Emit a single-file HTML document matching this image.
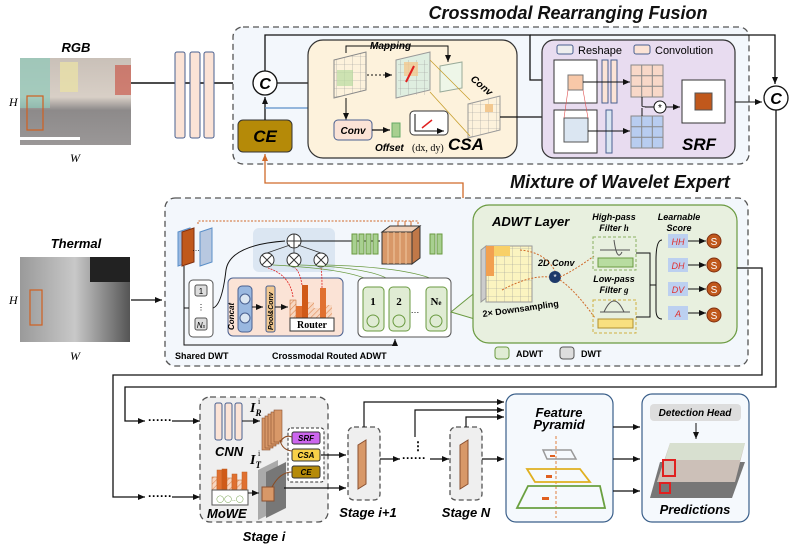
<!DOCTYPE html>
<html><head><meta charset="utf-8"><style>
html,body{margin:0;padding:0;background:#fff;}
svg{display:block;font-family:"Liberation Sans",sans-serif;}
.bi{font-weight:bold;font-style:italic;}
</style></head><body>
<svg width="793" height="548" viewBox="0 0 793 548" xmlns="http://www.w3.org/2000/svg">
<defs>
<marker id="a" markerWidth="8" markerHeight="8" refX="7" refY="4" orient="auto" markerUnits="userSpaceOnUse"><path d="M0,1 L7,4 L0,7 z" fill="#111"/></marker>
<marker id="ao" markerWidth="8" markerHeight="8" refX="7" refY="4" orient="auto" markerUnits="userSpaceOnUse"><path d="M0,1 L7,4 L0,7 z" fill="#d06a2a"/></marker>
<linearGradient id="rgb" x1="0" y1="0" x2="0" y2="1"><stop offset="0" stop-color="#c9c0b8"/><stop offset="0.45" stop-color="#d8cfc6"/><stop offset="0.6" stop-color="#8d8a8a"/><stop offset="1" stop-color="#9a9797"/></linearGradient>
<linearGradient id="th" x1="0" y1="0" x2="1" y2="0"><stop offset="0" stop-color="#9a9a9a"/><stop offset="0.5" stop-color="#c8c8c8"/><stop offset="1" stop-color="#555"/></linearGradient>
<pattern id="grid" width="8" height="8" patternUnits="userSpaceOnUse"><path d="M8 0H0V8" fill="none" stroke="#999" stroke-width="0.6"/></pattern>
<pattern id="hatch" width="4" height="4" patternUnits="userSpaceOnUse" patternTransform="rotate(45)"><rect width="4" height="4" fill="#f7d7c2"/><line x1="0" y1="0" x2="0" y2="4" stroke="#e08a55" stroke-width="1.2"/></pattern>
</defs>

<!-- Titles -->
<text x="568" y="19" font-size="18" class="bi" text-anchor="middle" fill="#111">Crossmodal Rearranging Fusion</text>
<text x="620" y="188" font-size="18" class="bi" text-anchor="middle" fill="#111">Mixture of Wavelet Expert</text>

<!-- RGB -->
<text x="76" y="52" font-size="13" class="bi" text-anchor="middle">RGB</text>
<rect x="20" y="58" width="111" height="87" fill="url(#rgb)"/>
<rect x="20" y="58" width="30" height="50" fill="#8fc9b9" opacity="0.7"/>
<rect x="60" y="62" width="18" height="30" fill="#e8e0a8" opacity="0.8"/>
<rect x="115" y="65" width="16" height="30" fill="#c84a3a" opacity="0.6"/>
<rect x="20" y="137" width="60" height="3" fill="#fff"/>
<rect x="27" y="96" width="16" height="34" fill="none" stroke="#d06020" stroke-width="1.2"/>
<text x="9" y="106" font-size="12" font-style="italic" font-family="Liberation Serif">H</text>
<text x="70" y="162" font-size="12" font-style="italic" font-family="Liberation Serif">W</text>

<!-- Thermal -->
<text x="76" y="248" font-size="13" class="bi" text-anchor="middle">Thermal</text>
<rect x="20" y="257" width="110" height="85" fill="url(#th)"/>
<rect x="90" y="257" width="40" height="25" fill="#222"/>
<rect x="30" y="290" width="12" height="35" fill="none" stroke="#d06020" stroke-width="1.2"/>
<text x="9" y="304" font-size="12" font-style="italic" font-family="Liberation Serif">H</text>
<text x="70" y="360" font-size="12" font-style="italic" font-family="Liberation Serif">W</text>
<line x1="131" y1="300" x2="162" y2="300" stroke="#111" stroke-width="1.3" marker-end="url(#a)"/>

<!-- backbone bars -->
<line x1="131" y1="83" x2="251" y2="83" stroke="#111" stroke-width="1.4" marker-end="url(#a)"/>
<rect x="175" y="52" width="10" height="86" rx="2" fill="#fbe3d6" stroke="#4a6090"/>
<rect x="190" y="52" width="10" height="86" rx="2" fill="#fbe3d6" stroke="#4a6090"/>
<rect x="204" y="52" width="10" height="86" rx="2" fill="#fbe3d6" stroke="#4a6090"/>

<!-- CRF dashed box -->
<rect x="233" y="27" width="516" height="137" rx="10" fill="#f3f7fc" stroke="#555" stroke-width="1.3" stroke-dasharray="6,4"/>
<circle cx="265" cy="83" r="12" fill="#fff" stroke="#111" stroke-width="1.3"/>
<text x="265" y="89" font-size="16" class="bi" text-anchor="middle">C</text>
<rect x="238" y="120" width="54" height="32" rx="5" fill="#b58a08" stroke="#333"/>
<text x="265" y="142" font-size="17" class="bi" text-anchor="middle">CE</text>
<line x1="265" y1="120" x2="265" y2="97" stroke="#111" stroke-width="1.3" marker-end="url(#a)"/>
<!-- top loop -->
<polyline points="265,71 265,35 530,35 530,80 553,80" fill="none" stroke="#111" stroke-width="1.3" marker-end="url(#a)"/>
<polyline points="530,35 775,35 775,84" fill="none" stroke="#111" stroke-width="1.3" marker-end="url(#a)"/>
<line x1="277" y1="83" x2="336" y2="83" stroke="#111" stroke-width="1.3" marker-end="url(#a)"/>
<polyline points="265,108 400,108 400,98" fill="none" stroke="#5b8fc8" stroke-width="1.3"/>

<!-- CSA -->
<rect x="308" y="40" width="209" height="118" rx="15" fill="#fdf2dc" stroke="#333" stroke-width="1.2"/>
<text x="370" y="49" font-size="10" class="bi">Mapping</text>
<polygon points="334,60 366,52 366,90 334,98" fill="url(#grid)" stroke="#888"/>
<rect x="337" y="70" width="16" height="16" fill="#b8dca0" opacity="0.7"/>
<line x1="367" y1="75" x2="392" y2="75" stroke="#111" stroke-dasharray="2,2" marker-end="url(#a)"/>
<polygon points="396,60 430,52 430,90 396,98" fill="#dfeee0" stroke="#999"/>
<rect x="398" y="60" width="30" height="35" fill="url(#grid)"/>
<rect x="404" y="62" width="14" height="14" fill="#f2c890" opacity="0.8"/>
<line x1="406" y1="82" x2="414" y2="66" stroke="#e02020" stroke-width="2"/>
<polyline points="346,53 346,46 448,46 448,62" fill="none" stroke="#111" marker-end="url(#a)"/>
<polygon points="440,66 462,62 462,88 440,92" fill="#eef6e8" stroke="#9a9"/>
<text x="470" y="80" font-size="10" class="bi" transform="rotate(40 470 80)">Conv</text>
<polygon points="468,104 500,96 500,130 468,138" fill="url(#grid)" stroke="#999"/>
<rect x="485" y="104" width="8" height="8" fill="#f2c890"/>
<line x1="430" y1="60" x2="470" y2="100" stroke="#c8a030" stroke-width="0.8"/>
<line x1="430" y1="92" x2="470" y2="136" stroke="#c8a030" stroke-width="0.8"/>
<line x1="346" y1="98" x2="346" y2="120" stroke="#111" marker-end="url(#a)"/>
<rect x="334" y="120" width="38" height="20" rx="4" fill="#fbe3d6" stroke="#4a6090"/>
<text x="353" y="134" font-size="10" class="bi" text-anchor="middle">Conv</text>
<line x1="372" y1="130" x2="390" y2="130" stroke="#111" stroke-width="1.3" marker-end="url(#a)"/>
<rect x="392" y="123" width="8" height="14" fill="#a8d090" stroke="#6a6"/>
<text x="375" y="151" font-size="10" class="bi">Offset</text>
<text x="412" y="151" font-size="10" font-family="Liberation Serif">(dx, dy)</text>
<rect x="410" y="111" width="38" height="24" rx="4" fill="#fff" stroke="#333"/>
<polyline points="415,114 415,131 444,131" fill="none" stroke="#111" marker-end="url(#a)"/>
<line x1="422" y1="128" x2="432" y2="120" stroke="#e02020" stroke-width="1.5"/>
<text x="448" y="150" font-size="17" class="bi">CSA</text>
<line x1="500" y1="117" x2="553" y2="117" stroke="#111" stroke-width="1.2" marker-end="url(#a)"/>

<!-- SRF -->
<rect x="542" y="40" width="193" height="118" rx="12" fill="#e8dcf0" stroke="#333" stroke-width="1.2"/>
<rect x="557" y="45" width="16" height="9" rx="2" fill="#eee" stroke="#4a6090"/>
<text x="578" y="54" font-size="11">Reshape</text>
<rect x="634" y="45" width="16" height="9" rx="2" fill="#fbe3d6" stroke="#4a6090"/>
<text x="655" y="54" font-size="11">Convolution</text>
<rect x="554" y="60" width="43" height="43" fill="#fff" stroke="#333"/>
<rect x="568" y="75" width="15" height="15" fill="#f8c8a8" stroke="#777"/>
<rect x="554" y="110" width="43" height="43" fill="#fff" stroke="#333"/>
<rect x="564" y="118" width="24" height="24" fill="#dbe6f2" stroke="#555"/>
<line x1="568" y1="90" x2="564" y2="118" stroke="#e05050" stroke-width="0.6"/>
<line x1="583" y1="90" x2="588" y2="118" stroke="#e05050" stroke-width="0.6"/>
<rect x="602" y="60" width="6" height="43" fill="#fbe3d6" stroke="#4a6090"/>
<rect x="611" y="60" width="6" height="43" fill="#fbe3d6" stroke="#4a6090"/>
<rect x="606" y="110" width="6" height="43" fill="#dbe6f2" stroke="#4a6090"/>
<line x1="583" y1="82" x2="630" y2="82" stroke="#111" marker-end="url(#a)"/>
<line x1="588" y1="131" x2="630" y2="131" stroke="#111" marker-end="url(#a)"/>
<rect x="631" y="65" width="32" height="32" fill="#f8d8c8" stroke="#888"/>
<path d="M641.7 65V97M652.3 65V97M631 75.7H663M631 86.3H663" stroke="#888"/>
<rect x="631" y="116" width="32" height="32" fill="#b8cdf0" stroke="#888"/>
<path d="M641.7 116V148M652.3 116V148M631 126.7H663M631 137.3H663" stroke="#888"/>
<path d="M642,97 L642,106 Q642,107 650,107 M642,116 L642,108" fill="none" stroke="#111"/>
<line x1="645" y1="107" x2="654" y2="107" stroke="#111"/>
<circle cx="660" cy="107" r="6" fill="#fff" stroke="#111"/>
<text x="660" y="111" font-size="10" text-anchor="middle">*</text>
<line x1="666" y1="107" x2="680" y2="107" stroke="#111" marker-end="url(#a)"/>
<rect x="682" y="80" width="43" height="43" fill="#fff" stroke="#333"/>
<rect x="695" y="93" width="17" height="17" fill="#c0581c" stroke="#555"/>
<text x="682" y="150" font-size="17" class="bi">SRF</text>
<line x1="735" y1="102" x2="762" y2="102" stroke="#111" marker-end="url(#a)"/>
<circle cx="776" cy="98" r="12" fill="#fff" stroke="#111" stroke-width="1.3"/>
<text x="776" y="104" font-size="16" class="bi" text-anchor="middle">C</text>

<!-- orange feedback -->
<polyline points="440,241 463,241 463,183 265,183 265,154" fill="none" stroke="#d06a2a" stroke-width="1.3" marker-end="url(#ao)"/>

<!-- MoWE dashed box -->
<rect x="165" y="198" width="583" height="168" rx="10" fill="#f3f7fc" stroke="#555" stroke-width="1.3" stroke-dasharray="6,4"/>
<rect x="253" y="228" width="82" height="44" rx="6" fill="#dbe6f2"/>
<!-- feature stacks -->
<polygon points="178,232 190,228 190,262 178,266" fill="#9ab8e0" stroke="#5b8fc8"/>
<polygon points="182,232 194,228 194,262 182,266" fill="#c0581c" stroke="#803010"/>
<polygon points="200,232 212,228 212,262 200,266" fill="#b8c8e0" stroke="#5b8fc8"/>
<text x="192" y="251" font-size="8">…</text>
<polyline points="198,224 198,221 418,221 418,228" fill="none" stroke="#d06a2a" stroke-dasharray="2,1.5"/>
<path d="M398,221V228M405,221V228M411,221V228" stroke="#d06a2a"/>
<!-- shared DWT -->
<rect x="189" y="280" width="24" height="57" rx="4" fill="#fff" stroke="#555"/>
<rect x="195" y="285" width="12" height="11" rx="2" fill="#ddd" stroke="#555"/>
<text x="201" y="294" font-size="8" text-anchor="middle">1</text>
<text x="201" y="310" font-size="8" text-anchor="middle">⋮</text>
<rect x="195" y="318" width="12" height="12" rx="2" fill="#ddd" stroke="#555"/>
<text x="201" y="328" font-size="8" font-style="italic" text-anchor="middle">N<tspan font-size="5">s</tspan></text>
<polyline points="184,266 184,345 395,345 395,339" fill="none" stroke="#111" marker-end="url(#a)"/>
<line x1="184" y1="308" x2="189" y2="308" stroke="#111"/>
<path d="M213,308 Q222,305 226,270 Q230,245 285,241" fill="none" stroke="#111"/>
<!-- router -->
<rect x="228" y="278" width="115" height="58" rx="5" fill="#fbe3d6" stroke="#4a6090"/>
<rect x="238" y="286" width="14" height="46" rx="4" fill="#9ab8e0" stroke="#4a6090"/>
<circle cx="245" cy="299" r="5" fill="#dbe6f2" stroke="#4a6090"/>
<circle cx="245" cy="318" r="5" fill="#dbe6f2" stroke="#4a6090"/>
<text x="234" y="330" font-size="8" class="bi" transform="rotate(-90 234 330)">Concat</text>
<rect x="266" y="286" width="9" height="46" rx="2" fill="#f2c890" stroke="#4a6090"/>
<text x="273" y="330" font-size="7" class="bi" transform="rotate(-90 273 330)">Pool&amp;Conv</text>
<line x1="252" y1="307" x2="263" y2="307" stroke="#111" marker-end="url(#a)"/>
<line x1="275" y1="307" x2="288" y2="307" stroke="#111" marker-end="url(#a)"/>
<rect x="290" y="300" width="6" height="18" fill="url(#hatch)" stroke="#c06020" stroke-width="0.5"/>
<rect x="296" y="306" width="6" height="12" fill="#e07030"/>
<rect x="302" y="285" width="6" height="33" fill="#d05a18"/>
<rect x="308" y="302" width="6" height="16" fill="url(#hatch)"/>
<rect x="314" y="308" width="6" height="10" fill="url(#hatch)"/>
<rect x="320" y="288" width="6" height="30" fill="#e07030"/>
<rect x="326" y="305" width="6" height="13" fill="url(#hatch)"/>
<rect x="290" y="318" width="44" height="13" fill="#fff" stroke="#333"/>
<text x="312" y="328" font-size="10" font-weight="bold" font-family="Liberation Serif" text-anchor="middle">Router</text>
<!-- circles -->
<circle cx="294" cy="241" r="7" fill="#fff" stroke="#333"/><path d="M287,241H301M294,234V248" stroke="#333"/>
<g stroke="#333" fill="#fff"><circle cx="267" cy="260" r="7"/><circle cx="294" cy="260" r="7"/><circle cx="321" cy="260" r="7"/></g>
<path d="M262,255L272,265M272,255L262,265M289,255L299,265M299,255L289,265M316,255L326,265M326,255L316,265" stroke="#333"/>
<path d="M267,253L290,245M294,253V248M321,253L298,245" stroke="#333" stroke-width="0.8"/>
<path d="M293,297Q290,275 268,268M302,285Q300,272 295,268M322,288Q322,272 321,268" fill="none" stroke="#e02020" stroke-width="0.8" stroke-dasharray="2,1"/>
<path d="M378,288Q370,270 273,265M397,288Q390,268 300,265M446,288Q430,268 326,265" fill="none" stroke="#6a9a40" stroke-width="0.8"/>
<line x1="301" y1="241" x2="380" y2="241" stroke="#111" marker-end="url(#a)"/>
<!-- green/orange stacks -->
<g fill="#a8d090" stroke="#6a9a40"><rect x="352" y="234" width="5" height="20"/><rect x="359" y="234" width="5" height="20"/><rect x="366" y="234" width="5" height="20"/><rect x="373" y="234" width="5" height="20"/><rect x="430" y="234" width="5" height="20"/><rect x="437" y="234" width="5" height="20"/></g>
<polygon points="382,232 412,232 420,226 390,226" fill="#f0d0b8" stroke="#333"/>
<rect x="382" y="232" width="30" height="32" fill="#d89868" stroke="#333"/>
<polygon points="412,232 420,226 420,258 412,264" fill="#c07848" stroke="#333"/>
<path d="M388,232V264M394,232V264M400,232V264M406,232V264" stroke="#f0c8a0"/>
<!-- experts -->
<rect x="358" y="278" width="93" height="59" rx="5" fill="#fff" stroke="#555"/>
<g fill="#e0ecd4" stroke="#6a9a40"><rect x="363" y="287" width="21" height="44" rx="4"/><rect x="389" y="287" width="21" height="44" rx="4"/><rect x="426" y="287" width="21" height="44" rx="4"/></g>
<text x="373" y="305" font-size="11" font-weight="bold" font-family="Liberation Serif" text-anchor="middle">1</text>
<text x="399" y="305" font-size="11" font-weight="bold" font-family="Liberation Serif" text-anchor="middle">2</text>
<text x="436" y="305" font-size="11" font-weight="bold" font-family="Liberation Serif" text-anchor="middle">N<tspan font-size="7">e</tspan></text>
<text x="415" y="313" font-size="9" text-anchor="middle">…</text>
<g fill="none" stroke="#6a9a40"><circle cx="373" cy="321" r="6"/><circle cx="399" cy="321" r="6"/><circle cx="436" cy="321" r="6"/></g>
<text x="175" y="359" font-size="9" font-weight="bold">Shared DWT</text>
<text x="272" y="359" font-size="9" font-weight="bold">Crossmodal Routed ADWT</text>
<!-- ADWT Layer -->
<polygon points="451,312 478,290 478,320" fill="#e8f0df" stroke="#6a9a40"/>
<rect x="473" y="205" width="264" height="138" rx="16" fill="#e8f0df" stroke="#6a9a40" stroke-width="1.2"/>
<text x="492" y="226" font-size="13" class="bi">ADWT Layer</text>
<polygon points="481,250 486,246 486,298 481,302" fill="#ccc" stroke="#999"/>
<rect x="486" y="246" width="46" height="56" fill="#fbf4c0" stroke="#999"/>
<rect x="486" y="246" width="46" height="56" fill="url(#grid)"/>
<rect x="486" y="246" width="8" height="30" fill="#f2a050"/><rect x="494" y="246" width="16" height="10" fill="#f8d068"/>
<text x="538" y="266" font-size="9" class="bi">2D Conv</text>
<circle cx="555" cy="277" r="6" fill="#1e3a6a"/><text x="555" y="280" font-size="8" fill="#fff" text-anchor="middle">*</text>
<path d="M520,250Q545,252 555,271M560,277Q575,270 594,256M560,280Q575,290 595,318M502,290Q530,275 549,277" fill="none" stroke="#d06a2a" stroke-dasharray="2,1.5"/>
<text x="483" y="317" font-size="9" font-weight="bold" transform="rotate(-8 483 317)">2× Downsampling</text>
<text x="614" y="220" font-size="9" class="bi" text-anchor="middle">High-pass</text>
<text x="614" y="231" font-size="9" class="bi" text-anchor="middle">Filter <tspan font-family="Liberation Serif">h</tspan></text>
<rect x="593" y="237" width="43" height="33" fill="none" stroke="#8ab060" stroke-dasharray="3,2"/>
<rect x="598" y="258" width="35" height="9" fill="#b8dca0" stroke="#6a9a40"/>
<path d="M600,250H630M614,240Q617,262 622,252" fill="none" stroke="#555"/>
<text x="614" y="282" font-size="9" class="bi" text-anchor="middle">Low-pass</text>
<text x="614" y="293" font-size="9" class="bi" text-anchor="middle">Filter <tspan font-family="Liberation Serif">g</tspan></text>
<rect x="593" y="300" width="43" height="33" fill="none" stroke="#d0b040" stroke-dasharray="3,2"/>
<rect x="598" y="319" width="35" height="9" fill="#f8e080" stroke="#b09030"/>
<path d="M600,312H630M604,312Q614,290 624,312" fill="none" stroke="#555"/>
<path d="M636,253H650V317H636" fill="none" stroke="#111"/>
<path d="M650,285H656M662,240Q656,240 656,260V310Q656,319 662,319" fill="none" stroke="#111"/>
<text x="679" y="220" font-size="9" class="bi" text-anchor="middle">Learnable</text>
<text x="679" y="231" font-size="9" class="bi" text-anchor="middle">Score</text>
<g font-size="9" font-style="italic" fill="#e03030" text-anchor="middle">
<rect x="668" y="234" width="20" height="14" fill="#bcd0f0"/><text x="678" y="245">HH</text>
<rect x="668" y="258" width="20" height="14" fill="#bcd0f0"/><text x="678" y="269">DH</text>
<rect x="668" y="282" width="20" height="14" fill="#bcd0f0"/><text x="678" y="293">DV</text>
<rect x="668" y="306" width="20" height="14" fill="#bcd0f0"/><text x="678" y="317">A</text></g>
<g stroke="#111"><line x1="688" y1="241" x2="706" y2="241" marker-end="url(#a)"/><line x1="688" y1="265" x2="706" y2="265" marker-end="url(#a)"/><line x1="688" y1="289" x2="706" y2="289" marker-end="url(#a)"/><line x1="688" y1="313" x2="706" y2="313" marker-end="url(#a)"/></g>
<g fill="#c0581c" stroke="#803010"><circle cx="714" cy="241" r="7"/><circle cx="714" cy="265" r="7"/><circle cx="714" cy="289" r="7"/><circle cx="714" cy="315" r="7"/></g>
<g fill="#fff" font-size="10" text-anchor="middle"><text x="714" y="245">S</text><text x="714" y="269">S</text><text x="714" y="293">S</text><text x="714" y="319">S</text></g>
<rect x="495" y="347" width="14" height="12" rx="3" fill="#e0ecd4" stroke="#6a9a40"/>
<text x="516" y="357" font-size="9" font-weight="bold">ADWT</text>
<rect x="560" y="347" width="14" height="12" rx="3" fill="#ddd" stroke="#555"/>
<text x="581" y="357" font-size="9" font-weight="bold">DWT</text>

<!-- long loops -->
<polyline points="737,268 762,268 762,375 113,375 113,497 145,497" fill="none" stroke="#111" stroke-width="1.3" marker-end="url(#a)"/>
<polyline points="776,110 776,387 125,387 125,421 145,421" fill="none" stroke="#111" stroke-width="1.3" marker-end="url(#a)"/>
<text x="148" y="424" font-size="12" font-weight="bold">······</text>
<text x="148" y="500" font-size="12" font-weight="bold">······</text>
<line x1="172" y1="421" x2="200" y2="421" stroke="#111" stroke-width="1.3" marker-end="url(#a)"/>
<line x1="172" y1="497" x2="200" y2="497" stroke="#111" stroke-width="1.3" marker-end="url(#a)"/>

<!-- Stage i -->
<rect x="200" y="397" width="128" height="125" rx="10" fill="#efefef" stroke="#555" stroke-width="1.3" stroke-dasharray="6,4"/>
<rect x="215" y="403" width="7" height="37" rx="2" fill="#fbe3d6" stroke="#4a6090"/>
<rect x="225" y="403" width="7" height="37" rx="2" fill="#fbe3d6" stroke="#4a6090"/>
<rect x="235" y="403" width="7" height="37" rx="2" fill="#fbe3d6" stroke="#4a6090"/>
<line x1="242" y1="421" x2="260" y2="421" stroke="#111" marker-end="url(#a)"/>
<text x="215" y="456" font-size="13" class="bi">CNN</text>
<text x="250" y="412" font-size="14" font-weight="bold" font-style="italic" font-family="Liberation Serif">I<tspan font-size="9" dy="4">R</tspan></text>
<text x="258" y="404" font-size="8" font-family="Liberation Serif">i</text>
<g fill="#d89868" stroke="#8a5030" stroke-width="0.6"><rect x="262" y="418" width="8" height="32"/><rect x="265" y="416" width="8" height="32"/><rect x="268" y="414" width="8" height="32"/><rect x="271" y="412" width="8" height="32"/><rect x="274" y="410" width="8" height="32"/></g>
<rect x="288" y="428" width="36" height="54" rx="3" fill="#fff" stroke="#333" stroke-dasharray="3,2"/>
<rect x="292" y="432" width="28" height="12" rx="2" fill="#cc66ee" stroke="#333"/><text x="306" y="441" font-size="8" class="bi" text-anchor="middle">SRF</text>
<rect x="292" y="449" width="28" height="12" rx="2" fill="#f8d048" stroke="#333"/><text x="306" y="458" font-size="8" class="bi" text-anchor="middle">CSA</text>
<rect x="292" y="466" width="28" height="12" rx="2" fill="#b58a08" stroke="#333"/><text x="306" y="475" font-size="8" class="bi" text-anchor="middle">CE</text>
<path d="M280,440Q282,450 292,451M280,442Q285,434 292,437" fill="none" stroke="#8a4a20"/>
<text x="250" y="464" font-size="14" font-weight="bold" font-style="italic" font-family="Liberation Serif">I<tspan font-size="9" dy="4">T</tspan></text>
<text x="258" y="456" font-size="8" font-family="Liberation Serif">i</text>
<polygon points="258,470 278,460 278,510 258,520" fill="#aaa"/>
<polygon points="266,472 286,462 286,508 266,518" fill="#777"/>
<rect x="262" y="487" width="12" height="14" fill="#d89868" stroke="#8a5030"/>
<path d="M272,487Q280,472 292,472" fill="none" stroke="#8a4a20"/>
<g stroke-width="0.5" stroke="#c06020"><rect x="212" y="477" width="5" height="13" fill="url(#hatch)"/><rect x="217" y="470" width="5" height="20" fill="#e07030"/><rect x="222" y="469" width="5" height="21" fill="#d05a18"/><rect x="227" y="478" width="5" height="12" fill="url(#hatch)"/><rect x="232" y="474" width="5" height="16" fill="#e07030"/><rect x="237" y="480" width="5" height="10" fill="url(#hatch)"/><rect x="242" y="472" width="5" height="18" fill="#e07030"/></g>
<rect x="212" y="490" width="36" height="15" fill="#fff" stroke="#555"/>
<text x="230" y="501" font-size="7" fill="#6a9a40" text-anchor="middle">◯◯..◯</text>
<line x1="248" y1="493" x2="259" y2="493" stroke="#111" marker-end="url(#a)"/>
<text x="207" y="518" font-size="13" class="bi">MoWE</text>
<text x="264" y="541" font-size="13" class="bi" text-anchor="middle">Stage i</text>
<line x1="321" y1="455" x2="346" y2="455" stroke="#111" stroke-width="1.3" marker-end="url(#a)"/>
<line x1="284" y1="488" x2="346" y2="488" stroke="#111" stroke-width="1.3" marker-end="url(#a)"/>

<!-- Stage i+1 / N -->
<rect x="348" y="427" width="32" height="73" rx="6" fill="#efefef" stroke="#555" stroke-width="1.3" stroke-dasharray="5,3"/>
<polygon points="358,445 366,440 366,484 358,489" fill="#d89868" stroke="#8a5030"/>
<text x="368" y="517" font-size="13" class="bi" text-anchor="middle">Stage i+1</text>
<rect x="450" y="427" width="32" height="73" rx="6" fill="#efefef" stroke="#555" stroke-width="1.3" stroke-dasharray="5,3"/>
<polygon points="460,445 468,440 468,484 460,489" fill="#d89868" stroke="#8a5030"/>
<text x="466" y="517" font-size="13" class="bi" text-anchor="middle">Stage N</text>
<line x1="380" y1="459" x2="400" y2="459" stroke="#111" stroke-width="1.3" marker-end="url(#a)"/>
<text x="402" y="462" font-size="12" font-weight="bold">······</text>
<line x1="430" y1="459" x2="449" y2="459" stroke="#111" stroke-width="1.3" marker-end="url(#a)"/>
<text x="412" y="450" font-size="12" font-weight="bold">⋮</text>
<polyline points="364,427 364,402 504,402" fill="none" stroke="#111" stroke-width="1.2" marker-end="url(#a)"/>
<polyline points="415,437 415,410 504,410" fill="none" stroke="#111" stroke-width="1.2" marker-end="url(#a)"/>
<polyline points="466,427 466,417 504,417" fill="none" stroke="#111" stroke-width="1.2" marker-end="url(#a)"/>
<line x1="482" y1="459" x2="504" y2="459" stroke="#111" stroke-width="1.3" marker-end="url(#a)"/>

<!-- Feature pyramid -->
<rect x="506" y="394" width="107" height="128" rx="10" fill="#f5f9fd" stroke="#3a5f8a" stroke-width="1.2"/>
<text x="559" y="417" font-size="13" class="bi" text-anchor="middle">Feature</text>
<text x="559" y="429" font-size="13" class="bi" text-anchor="middle">Pyramid</text>
<line x1="556" y1="436" x2="556" y2="518" stroke="#e08040" stroke-dasharray="3,2"/>
<polygon points="543,450 571,450 576,459 547,459" fill="none" stroke="#999" stroke-width="1.5"/>
<polygon points="527,469 580,469 590,482 535,482" fill="none" stroke="#e0b020" stroke-width="1.8"/>
<polygon points="528,486 600,486 605,508 517,508" fill="none" stroke="#6aa040" stroke-width="1.8"/>
<rect x="550" y="455" width="5" height="2" fill="#e06020"/><rect x="546" y="475" width="6" height="3" fill="#e06020"/><rect x="542" y="497" width="7" height="3" fill="#e06020"/>
<line x1="613" y1="427" x2="640" y2="427" stroke="#111" stroke-width="1.3" marker-end="url(#a)"/>
<line x1="613" y1="459" x2="640" y2="459" stroke="#111" stroke-width="1.3" marker-end="url(#a)"/>
<line x1="613" y1="491" x2="640" y2="491" stroke="#111" stroke-width="1.3" marker-end="url(#a)"/>

<!-- predictions -->
<rect x="642" y="394" width="107" height="128" rx="10" fill="#f5f9fd" stroke="#3a5f8a" stroke-width="1.2"/>
<rect x="650" y="404" width="91" height="17" rx="4" fill="#ddd"/>
<text x="695" y="416" font-size="10" class="bi" text-anchor="middle">Detection Head</text>
<line x1="696" y1="423" x2="696" y2="439" stroke="#111" marker-end="url(#a)"/>
<polygon points="660,462 745,462 732,498 650,498" fill="#777"/>
<polygon points="670,443 745,443 735,482 657,482" fill="#ccc0b8"/>
<polygon points="670,443 745,443 740,460 665,460" fill="#d8e0d0"/>
<rect x="663" y="460" width="12" height="16" fill="none" stroke="#e02020" stroke-width="2"/>
<rect x="660" y="483" width="10" height="10" fill="none" stroke="#e02020" stroke-width="2"/>
<text x="695" y="514" font-size="13" class="bi" text-anchor="middle">Predictions</text>
</svg>
</body></html>
